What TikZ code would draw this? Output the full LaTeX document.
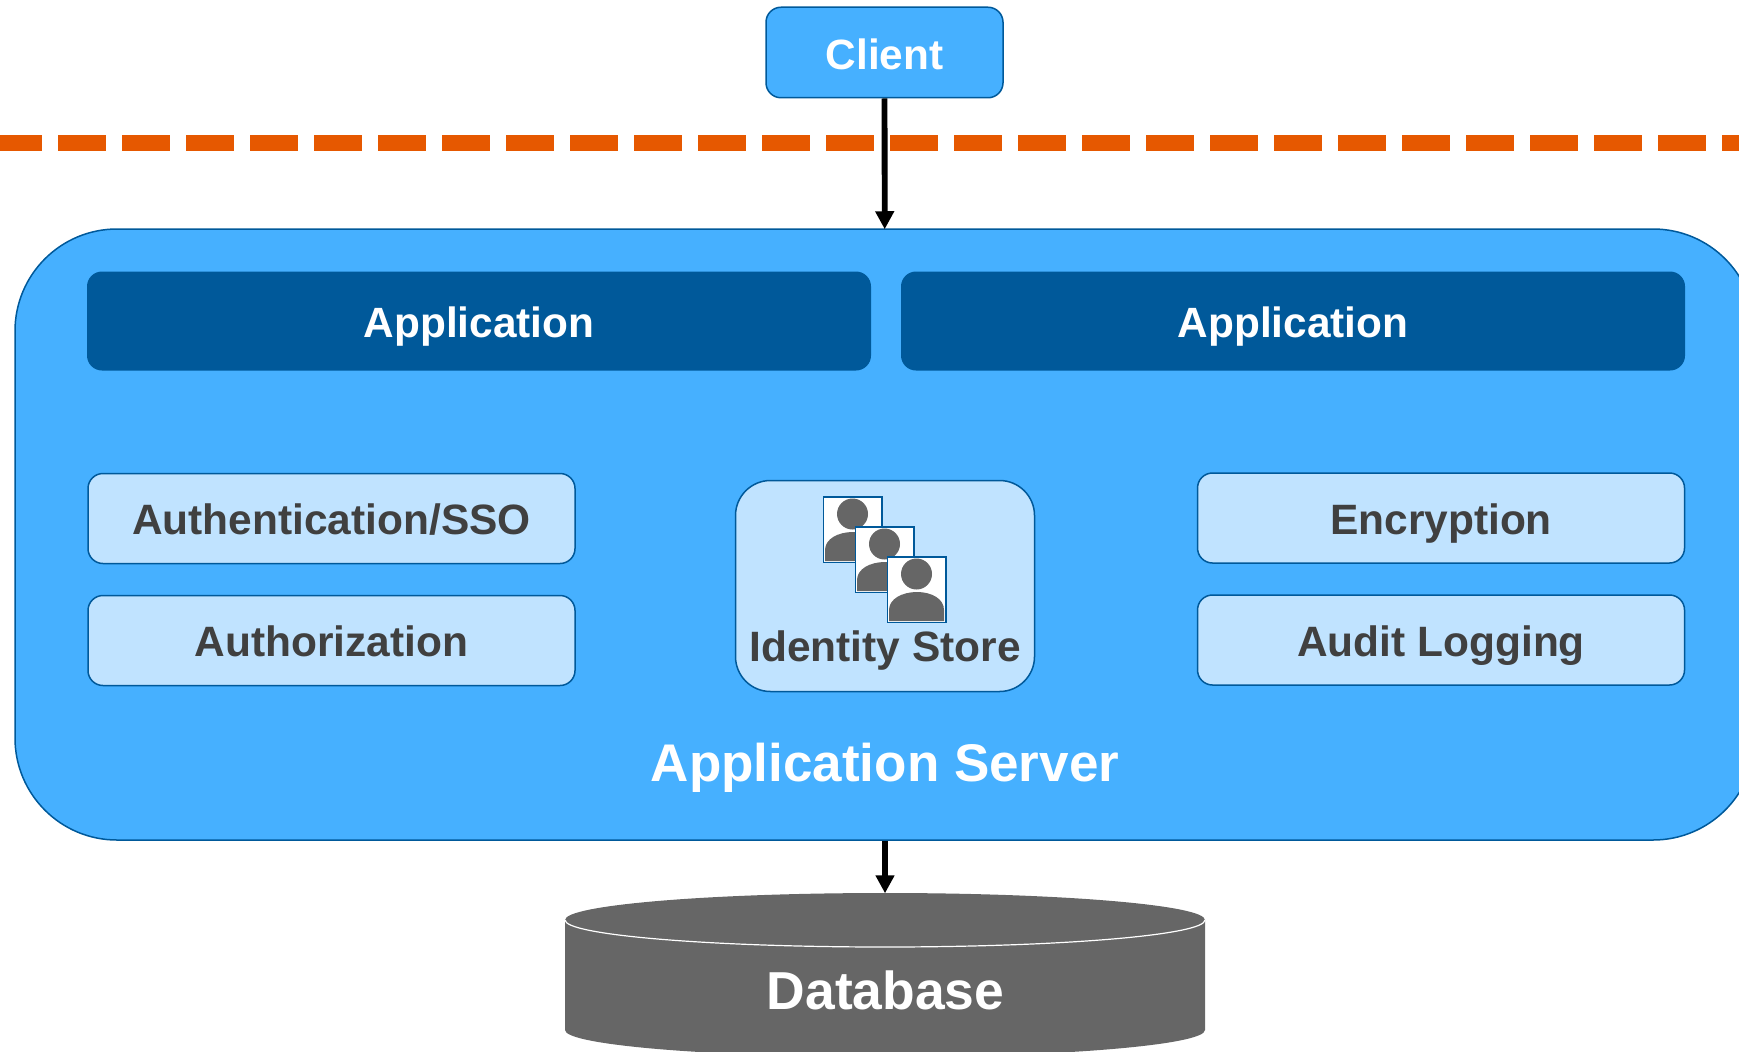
\documentclass[tikz,border=0pt]{standalone}
\usepackage{fontspec}
\setmainfont{Liberation Sans}
\usetikzlibrary{arrows.meta,shapes.geometric}
\definecolor{skyblue}{HTML}{46B0FF}
\definecolor{navyblue}{HTML}{00599A}
\definecolor{paleblue}{HTML}{C0E3FF}
\definecolor{darkgray}{HTML}{666666}
\definecolor{textgray}{HTML}{404040}
\definecolor{fireline}{HTML}{E65800}
\tikzset{
    tier/.style={draw=navyblue, line width=0.015cm, fill=skyblue, inner sep=0pt},
    appbox/.style={fill=navyblue, rounded corners=0.15cm, minimum width=7.84cm, minimum height=0.99cm, inner sep=0pt, text=white, font=\bfseries\fontsize{12.05}{14}\selectfont, text height=9.2pt, text depth=0pt},
    svcbox/.style={draw=navyblue, line width=0.015cm, fill=paleblue, rounded corners=0.15cm, minimum width=4.87cm, minimum height=0.90cm, inner sep=0pt, text=textgray, font=\bfseries\fontsize{12.08}{14}\selectfont, text height=9.2pt, text depth=0pt},
    flow/.style={line width=0.058cm, shorten >=-0.01cm, -{Triangle[width=0.18cm, length=0.18cm]}},
}
\begin{document}
\begin{tikzpicture}
    \useasboundingbox (0,0) rectangle (17.39,-10.51);
    % firewall
    \draw [fireline, line width=0.16cm, dash pattern=on 0.48cm off 0.16cm] (-0.06,-1.43) -- (17.45,-1.43);
    % tiers
    \node [tier, rounded corners=0.15cm, minimum width=2.37cm, minimum height=0.905cm, text=white, font=\bfseries\fontsize{12.05}{14}\selectfont, text height=9.6pt, text depth=0pt] (client) at (8.845,-0.525) {Client};
    \node [tier, rounded corners=1.02cm, minimum width=17.40cm, minimum height=6.11cm] (server) at (8.85,-5.345) {};
    \node [text=white, font=\bfseries\fontsize{15.08}{18}\selectfont] (servername) at (8.85,-7.675) {Application Server};
    % database
    \fill [darkgray] (5.65,-9.20) -- (5.65,-10.30) arc [start angle=180, end angle=360, x radius=3.20cm, y radius=0.27cm] -- (12.05,-9.20) -- cycle;
    \node [ellipse, fill=darkgray, minimum width=6.40cm, minimum height=0.54cm, inner sep=0pt] (database) at (8.85,-9.20) {};
    \draw [white, line width=0.012cm] (5.65,-9.20) arc [start angle=180, end angle=360, x radius=3.20cm, y radius=0.27cm];
    \node [text=white, font=\bfseries\fontsize{15.2}{18}\selectfont, text height=10.7pt, text depth=0pt] (dbname) at (8.855,-9.91) {Database};
    \draw [flow] (client) -- (server);
    \draw [flow] (server) -- (database);
    % applications
    \node [appbox] (appleft) at (4.79,-3.21) {Application};
    \node [appbox] (appright) at (12.93,-3.21) {Application};
    % services
    \node [svcbox] (authn) at (3.315,-5.185) {Authentication/SSO};
    \node [svcbox] (authz) at (3.315,-6.405) {Authorization};
    \node [svcbox] (encrypt) at (14.41,-5.18) {Encryption};
    \node [svcbox] (audit) at (14.41,-6.40) {Audit Logging};
    % identity store
    \node [draw=navyblue, line width=0.015cm, fill=paleblue, rounded corners=0.35cm, minimum width=2.99cm, minimum height=2.11cm, inner sep=0pt] (identity) at (8.85,-5.86) {};
    \foreach \n in {0,1,2} {
        \begin{scope}[shift={(0.32*\n,-0.30*\n)}]
            \draw [navyblue, line width=0.015cm, fill=white] (8.235,-4.97) rectangle (8.82,-5.625);
            \fill [darkgray] (8.525,-5.14) circle (0.155);
            \fill [darkgray] (8.25,-5.61) -- (8.25,-5.50) .. controls (8.25,-5.39) and (8.38,-5.32) .. (8.53,-5.32) .. controls (8.68,-5.32) and (8.80,-5.39) .. (8.80,-5.50) -- (8.80,-5.61) -- cycle;
        \end{scope}
    }
    \node [text=textgray, font=\bfseries\fontsize{12.08}{14}\selectfont, text height=9.2pt, text depth=0pt] (identityname) at (8.85,-6.45) {Identity Store};
\end{tikzpicture}
\end{document}
